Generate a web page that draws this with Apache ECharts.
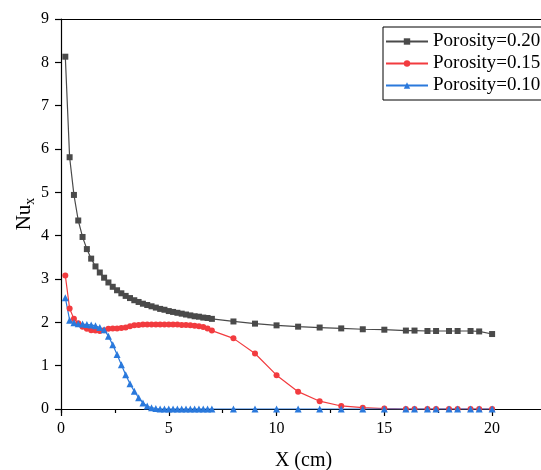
<!DOCTYPE html>
<html>
<head>
<meta charset="utf-8">
<script src="https://cdn.jsdelivr.net/npm/echarts@6/dist/echarts.min.js"></script>
<style>
  html, body { margin: 0; padding: 0; background: #fff; }
  #chart { width: 541px; height: 470px; }
</style>
</head>
<body>
<div id="chart"></div>
<script>
// Axial position along the plate (cm)
const xPositions = [
  0.2, 0.4, 0.6, 0.8, 1.0, 1.2, 1.4, 1.6, 1.8, 2.0,
  2.2, 2.4, 2.6, 2.8, 3.0, 3.2, 3.4, 3.6, 3.8, 4.0,
  4.2, 4.4, 4.6, 4.8, 5.0, 5.2, 5.4, 5.6, 5.8, 6.0,
  6.2, 6.4, 6.6, 6.8, 7.0,
  8, 9, 10, 11, 12, 13, 14, 15, 16, 16.4, 17, 17.4, 18, 18.4, 19, 19.4, 20
];

// Local Nusselt number for each porosity
const nuPorosity020 = [
  8.13, 5.81, 4.94, 4.35, 3.97, 3.69, 3.47, 3.29, 3.15, 3.03,
  2.92, 2.82, 2.74, 2.67, 2.61, 2.56, 2.51, 2.47, 2.43, 2.40,
  2.37, 2.34, 2.31, 2.29, 2.26, 2.24, 2.22, 2.20, 2.18, 2.16,
  2.14, 2.13, 2.11, 2.10, 2.08,
  2.02, 1.97, 1.93, 1.90, 1.88, 1.86, 1.84, 1.83, 1.81, 1.81, 1.80, 1.80, 1.80, 1.80, 1.80, 1.79, 1.73
];

const nuPorosity015 = [
  3.08, 2.32, 2.08, 1.98, 1.90, 1.85, 1.82, 1.81, 1.80, 1.82,
  1.85, 1.86, 1.86, 1.87, 1.88, 1.91, 1.93, 1.94, 1.95, 1.95,
  1.95, 1.95, 1.95, 1.95, 1.95, 1.95, 1.95, 1.94, 1.94, 1.93,
  1.92, 1.91, 1.89, 1.86, 1.81,
  1.63, 1.28, 0.78, 0.40, 0.18, 0.07, 0.03, 0.01, 0, 0, 0, 0, 0, 0, 0, 0, 0
];

const nuPorosity010 = [
  2.57, 2.05, 1.99, 1.97, 1.96, 1.95, 1.94, 1.92, 1.88, 1.83,
  1.68, 1.48, 1.26, 1.02, 0.79, 0.58, 0.41, 0.26, 0.14, 0.07,
  0.03, 0.01, 0, 0, 0, 0, 0, 0, 0, 0,
  0, 0, 0, 0, 0,
  0, 0, 0, 0, 0, 0, 0, 0, 0, 0, 0, 0, 0, 0, 0, 0, 0
];

const seriesNames = ['Porosity=0.20', 'Porosity=0.15', 'Porosity=0.10'];
const yTicks = [0, 1, 2, 3, 4, 5, 6, 7, 8, 9];
const xTickLabels = [0, 5, 10, 15, 20];

const FONT = 'Liberation Serif';

function pairs(values) {
  return xPositions.map((x, i) => [x, values[i]]);
}

function lineSeries(name, values, symbol, size, color) {
  return {
    name: name,
    type: 'line',
    xAxisIndex: 0,
    yAxisIndex: 0,
    data: pairs(values),
    symbol: symbol,
    symbolSize: size,
    showSymbol: true,
    showAllSymbol: true,
    lineStyle: { color: color, width: 1.2 },
    itemStyle: { color: color },
    emphasis: { disabled: true },
    animation: false
  };
}

const chart = echarts.init(document.getElementById('chart'), null, { renderer: 'canvas' });

chart.setOption({
  backgroundColor: '#ffffff',
  animation: false,
  grid: { left: 61, top: 19, bottom: 61, right: -5, containLabel: false, outerBoundsMode: 'none' },
  legend: {
    orient: 'vertical',
    left: 383,
    top: 27,
    data: seriesNames,
    itemWidth: 42,
    itemHeight: 8,
    itemGap: 3,
    padding: [5, 12, 5, 2],
    borderColor: '#000',
    borderWidth: 1,
    borderRadius: 0,
    backgroundColor: '#fff',
    textStyle: { fontFamily: FONT, fontSize: 19, color: '#000', padding: [0, 0, 0, 0] }
  },
  xAxis: [
    {
      type: 'value',
      position: 'bottom',
      min: 0,
      max: 22.5,
      interval: 5,
      name: 'X (cm)',
      nameLocation: 'middle',
      nameGap: 42,
      nameMoveOverlap: false,
      nameTextStyle: { fontFamily: FONT, fontSize: 20, color: '#000' },
      axisLine: { show: true, onZero: false, lineStyle: { color: '#000', width: 1.2 } },
      axisTick: { show: true, inside: false, length: 7, lineStyle: { color: '#000', width: 1.2 } },
      axisLabel: {
        fontFamily: FONT, fontSize: 16, color: '#000', margin: 12,
        formatter: v => (xTickLabels.indexOf(v) >= 0 ? String(v) : '')
      },
      splitLine: { show: false }
    },
    {
      type: 'value',
      position: 'bottom',
      min: 0,
      max: 22.5,
      interval: 2.5,
      axisLine: { show: false, onZero: false },
      axisTick: { show: true, inside: false, length: 4, lineStyle: { color: '#000', width: 1.2 } },
      axisLabel: { show: false },
      splitLine: { show: false }
    },
    {
      type: 'value',
      position: 'top',
      min: 0,
      max: 22.5,
      axisLine: { show: true, onZero: false, lineStyle: { color: '#000', width: 1.2 } },
      axisTick: { show: false },
      axisLabel: { show: false },
      splitLine: { show: false }
    }
  ],
  yAxis: {
    type: 'value',
    min: yTicks[0],
    max: yTicks[yTicks.length - 1],
    interval: 1,
    name: '{a|Nu}{b|x}',
    nameLocation: 'middle',
    nameGap: 24,
    nameMoveOverlap: false,
    nameTextStyle: {
      fontFamily: FONT, color: '#000',
      rich: {
        a: { fontFamily: FONT, fontSize: 21, color: '#000', lineHeight: 26, verticalAlign: 'middle' },
        b: { fontFamily: FONT, fontSize: 14, color: '#000', lineHeight: 26, verticalAlign: 'bottom' }
      }
    },
    axisLine: { show: true, onZero: false, lineStyle: { color: '#000', width: 1.2 } },
    axisTick: { show: true, inside: false, length: 6, lineStyle: { color: '#000', width: 1.2 } },
    axisLabel: { fontFamily: FONT, fontSize: 16, color: '#000', margin: 12 },
    splitLine: { show: false }
  },
  series: [
    lineSeries(seriesNames[0], nuPorosity020, 'rect', 6, '#4a4a4a'),
    lineSeries(seriesNames[1], nuPorosity015, 'circle', 6, '#f23b3f'),
    lineSeries(seriesNames[2], nuPorosity010, 'triangle', 7, '#2a79dc')
  ]
});
</script>
</body>
</html>
